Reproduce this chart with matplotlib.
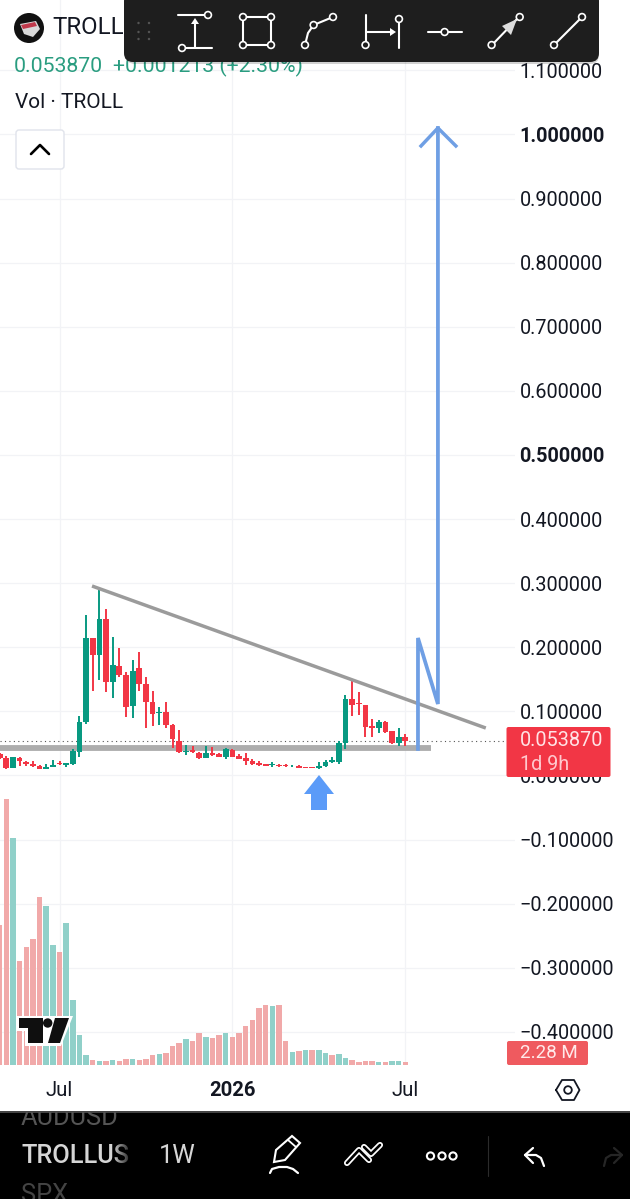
import numpy as np
import matplotlib
matplotlib.use('Agg')
import matplotlib.pyplot as plt
from matplotlib.patches import FancyBboxPatch, Polygon, Circle, Rectangle

plt.rcParams['font.family'] = ['Roboto', 'DejaVu Sans']

# weekly candles, first one is cut off by the left edge
opens = [.0328, .0266, .0110, .0276, .0214, .0183, .0152, .0105, .0136, .0188, .0157, .0178, .0370, .0828,
         .2148, .1878, .2440, .1462, .1712, .1566, .1082, .1675, .1420, .1140, .0968, .0994, .0786, .0542,
         .0365, .0396, .0354, .0276, .0354, .0328, .0282, .0396, .0302, .0266, .0230, .0188, .0178, .0162,
         .0167, .0157, .0141, .0146, .0131, .0126, .0110, .0146, .0214, .0204, .0510, .1186, .1124, .1098,
         .0776, .0734, .0828, .0687, .0500, .0594]
closes = [.0266, .0110, .0282, .0219, .0183, .0152, .0105, .0131, .0162, .0178, .0188, .0380, .0838, .2148,
          .1878, .2440, .1462, .1722, .1566, .1072, .1628, .1420, .1140, .0958, .0994, .0781, .0568, .0365,
          .0386, .0360, .0266, .0344, .0323, .0292, .0406, .0287, .0261, .0224, .0172, .0167, .0152, .0178,
          .0141, .0146, .0152, .0120, .0120, .0120, .0152, .0214, .0240, .0510, .1186, .1098, .1108, .0760,
          .0739, .0828, .0682, .0500, .0594, .05387]
highs = [.0344, .0308, .0282, .0292, .0224, .0224, .0162, .0172, .0235, .0224, .0198, .0406, .0926, .2507,
         .2148, .2918, .2596, .2164, .1992, .1618, .1800, .1925, .1530, .1316, .1062, .1140, .0796, .0703,
         .0469, .0458, .0365, .0458, .0448, .0354, .0422, .0406, .0334, .0344, .0261, .0219, .0183, .0204,
         .0178, .0178, .0162, .0157, .0136, .0131, .0204, .0240, .0282, .0536, .1254, .1488, .1296, .1098,
         .0880, .0864, .0848, .0698, .0734, .0646]
lows = [.0256, .0100, .0110, .0152, .0152, .0136, .0095, .0100, .0126, .0157, .0126, .0167, .0292, .0796,
        .1322, .1488, .1301, .1202, .1540, .0906, .0900, .1322, .0744, .0776, .0786, .0744, .0432, .0354,
        .0318, .0349, .0250, .0266, .0308, .0282, .0256, .0282, .0250, .0167, .0162, .0141, .0141, .0136,
        .0136, .0136, .0131, .0115, .0115, .0115, .0105, .0136, .0198, .0172, .0406, .0932, .0942, .0604,
        .0604, .0661, .0656, .0495, .0464, .0458]

# volume in millions
volumes = [96.6, 183.3, 156.4, 71.8, 81.2, 86.7, 115.9, 109.7, 82.6, 77.8, 98.0, 44.9, 20.7, 6.9, 3.5, 2.6,
           3.0, 3.5, 3.0, 4.1, 4.1, 3.5, 4.1, 6.9, 7.8, 8.3, 13.3, 15.0, 17.7, 16.8, 22.1, 19.3, 18.6, 20.9,
           22.3, 19.5, 21.9, 26.9, 31.0, 39.1, 41.6, 40.5, 41.6, 16.8, 9.0, 9.5, 10.6, 10.6, 10.6, 8.5, 6.7,
           7.4, 5.0, 3.2, 1.9, 3.0, 3.0, 2.3, 2.3, 3.0, 3.0, 2.28]
# volume bars are coloured on their own, they do not always follow the candle
vol_marks = list('rrgrrrrggrg' 'gggrgrgrrg' 'rrrgrrrgrr' 'grrgrrrrrr' 'grrgrgrggr' 'ggrrrrgrggr')

price_ticks = [1.1, 1.0, 0.9, 0.8, 0.7, 0.6, 0.5, 0.4, 0.3, 0.2, 0.1, 0.0, -0.1, -0.2, -0.3, -0.4]
date_ticks = [8, 34, 60]
date_labels = ['Jul', '2026', 'Jul']

last_price = 0.05387
support_level = 0.0435
trend_x = [12.89, 72.1]
trend_y = [0.2955, 0.0739]
target_x = [61.9, 61.9, 64.9, 64.9]
target_y = [0.0412, 0.2144, 0.1114, 1.01]
head_x = [62.36, 64.9, 67.6]
head_y = [0.982, 1.01, 0.982]

UP = '#089981'
DOWN = '#f23645'
INK = '#131722'
GRID = '#f2f3f6'
BLUE = '#6f9fe4'

weeks = np.arange(-1, 61)
opens = np.array(opens)
closes = np.array(closes)
candle_colors = [UP if c >= o else DOWN for o, c in zip(opens, closes)]
vol_colors = ['#f1a9a9' if m == 'r' else '#90d0c9' for m in vol_marks]

fig = plt.figure(figsize=(6.3, 11.99), dpi=100)

# price panel
ax = fig.add_axes([0, 134 / 1199, 515 / 630, 1065 / 1199], zorder=1)
ax.set_xlim(-0.947, 76.49)
ax.set_ylim(-0.4518, 1.2097)
for s in ax.spines.values():
    s.set_visible(False)
ax.yaxis.tick_right()
ax.set_yticks(price_ticks)
ax.set_yticklabels([f'{t:.6f}'.replace('-', '\u2212') for t in price_ticks], fontsize=14.3, color=INK)
for t, lab in zip(price_ticks, ax.get_yticklabels()):
    if t in (1.0, 0.5):
        lab.set_fontweight('bold')
ax.set_xticks(date_ticks)
ax.set_xticklabels(date_labels, fontsize=14.6, color=INK)
ax.get_xticklabels()[1].set_fontweight('bold')
ax.tick_params(axis='y', length=0, pad=3.2)
ax.tick_params(axis='x', length=0, pad=11.5)
ax.grid(color=GRID, lw=0.9)
ax.set_axisbelow(True)

ax.plot([-1, 63.9], [support_level, support_level], color='#adadad', lw=4.2, solid_capstyle='butt', zorder=1.5)
ax.plot([-1, 76.4], [last_price, last_price], color='#555555', lw=0.8, ls=(0, (1, 3)), zorder=1.6)
ax.vlines(weeks, lows, highs, colors=candle_colors, lw=1.4, zorder=2)
ax.bar(weeks, closes - opens, bottom=opens, width=0.86, color=candle_colors, zorder=3)
ax.plot(trend_x, trend_y, color='#9b9b9b', lw=2.5, solid_capstyle='butt', zorder=4)
ax.plot(target_x, target_y, color=BLUE, lw=2.7, solid_joinstyle='miter', zorder=5)
ax.plot(head_x, head_y, color=BLUE, lw=2.5, zorder=5)

# volume panel, same x as price
vax = fig.add_axes([0, 134 / 1199, 515 / 630, 1065 / 1199], zorder=2, sharex=ax)
vax.patch.set_visible(False)
vax.set_ylim(0, 734.85)
vax.bar(weeks, volumes, width=0.82, color=vol_colors)
vax.axis('off')

# everything that belongs to the app around the chart, in screen pixels
ui = fig.add_axes([0, 0, 1, 1], zorder=5)
ui.patch.set_visible(False)
ui.axis('off')


def line(xs, ys, color='white', lw=1.5, z=12):
    ui.plot(xs, ys, color=color, lw=lw, zorder=z, solid_capstyle='round')


def dot(x, y, r=3.4, z=13):
    ui.add_patch(Circle((x, y), r, fc='#1e1e1e', ec='white', lw=1.2, zorder=z))


# header
ui.add_patch(Circle((29, 28), 15, fc='#111111', zorder=6))
ui.add_patch(Polygon([(20, 24), (36, 21), (40, 29), (33, 37), (24, 34)], fc='#d9d9d9', zorder=7))
ui.add_patch(Polygon([(21, 25), (35, 22), (37, 26), (23, 29)], fc='#c0394b', zorder=8))
ui.text(52, 28, 'TROLL', fontsize=17.3, color=INK, va='center', zorder=6)
ui.text(14, 66, '0.053870', fontsize=15.3, color='#2a9d80', va='center', zorder=6)
ui.text(113, 66, '+0.001213 (+2.30%)', fontsize=15.3, color='#2a9d80', va='center', zorder=6)
ui.text(15, 102, 'Vol \u00b7 TROLL', fontsize=15, color=INK, va='center', zorder=6)
ui.add_patch(FancyBboxPatch((17, 131), 46, 37, boxstyle='round,pad=1,rounding_size=3', fc='white', ec='#e0e3eb', lw=1, zorder=6))
line([31, 40, 49], [154, 145, 154], color='black', lw=1.9, z=7)

# drawing toolbar
ui.add_patch(FancyBboxPatch((126, -8), 473, 72, boxstyle='round,pad=0,rounding_size=9', fc='black', ec='none', alpha=0.18, zorder=9))
ui.add_patch(FancyBboxPatch((124, -8), 475, 70, boxstyle='round,pad=0,rounding_size=9', fc='#1e1e1e', ec='none', zorder=10))
for gx in (138.5, 149):
    for gy in (23, 32, 39):
        ui.add_patch(Circle((gx, gy), 1.2, fc='#555555', zorder=11))
# parallel / range
line([178, 205], [15, 15])
line([186, 212], [48, 48])
line([195, 195], [48, 22])
ui.add_patch(Polygon([(195, 18), (191, 24), (199, 24)], fc='white', zorder=12))
dot(208, 15)
dot(182, 48)
# rectangle
line([243, 271, 271, 243, 243], [17, 17, 45, 45, 17])
for p in [(243, 17), (271, 17), (243, 45), (271, 45)]:
    dot(*p)
# path
line([305, 308, 313.6, 333], [45, 33, 25, 17])
dot(305, 45)
dot(313.6, 25)
dot(333, 17)
# date range
line([365.5, 365.5], [15, 42])
line([399, 399], [23, 48])
line([367, 393], [32, 32])
ui.add_patch(Polygon([(396, 32), (390, 28), (390, 36)], fc='white', zorder=12))
dot(365.5, 45)
dot(399, 19)
# horizontal ray
line([428, 462], [32, 32])
dot(444.6, 32)
# arrow
line([492, 518], [45, 18])
ui.add_patch(Polygon([(517, 19), (502, 26), (511, 35)], fc='#dddddd', zorder=12))
dot(491.6, 45)
dot(519.7, 17)
# trend line
line([554, 582], [45, 17])
dot(554, 45)
dot(582, 17)

# blue entry arrow
ui.add_patch(Polygon([(319, 775), (334, 794), (327, 794), (327, 810), (311, 810), (311, 794), (304, 794)],
                     fc='#5b9bf8', zorder=6))

# price tags
ui.add_patch(FancyBboxPatch((506.5, 727), 104, 50, boxstyle='round,pad=0,rounding_size=2', fc=DOWN, ec='none', zorder=6))
ui.text(520, 741, '0.053870', fontsize=14.3, color='#ffe3e5', va='center', zorder=7)
ui.text(520, 764, '1d 9h', fontsize=14.3, color='#ffc9ce', va='center', zorder=7)
ui.add_patch(FancyBboxPatch((507, 1041), 81, 24, boxstyle='round,pad=0,rounding_size=2', fc='#ef5a5f', ec='none', zorder=6))
ui.text(520, 1053.5, '2.28 M', fontsize=13.5, color='#ffe9ea', va='center', zorder=7)

# tradingview mark
ui.add_patch(Polygon([(16, 1016), (73, 1016), (61, 1046), (25, 1046), (25, 1031), (16, 1031)], fc='white', zorder=6))
ui.add_patch(Polygon([(19, 1018), (43, 1018), (43, 1043), (28, 1043), (28, 1028), (19, 1028)], fc='#0f0f0f', zorder=7))
ui.add_patch(Circle((47.7, 1023), 4.7, fc='#0f0f0f', zorder=8))
ui.add_patch(Polygon([(55, 1018), (69, 1018), (60, 1043), (48, 1043)], fc='#0f0f0f', zorder=7))

# settings hexagon
hex_x = [556, 562, 574, 579.5, 574, 562, 556]
hex_y = [1090, 1080, 1080, 1090, 1100, 1100, 1090]
line(hex_x, hex_y, color=INK, lw=1.3, z=6)
ui.add_patch(Circle((568, 1090), 3.8, fc='white', ec=INK, lw=1.3, zorder=6))

# bottom bar
ui.add_patch(Rectangle((0, 1112), 630, 87, fc='black', zorder=6))
ui.add_patch(Rectangle((0, 1111), 630, 1.5, fc='#444444', zorder=6))
for label, y, col in [('AUDUSD', 1118, '#555555'), ('SPX', 1195, '#444444')]:
    t = ui.text(21, y, label, fontsize=18.3, color=col, va='center', zorder=7)
    t.set_clip_path(Rectangle((0, 1112), 630, 87, transform=ui.transData))
    t.set_clip_on(True)
ui.text(21, 1156, 'TROLLUS', fontsize=18.3, color='#d6d6d6', va='center', fontweight='medium', zorder=7)
ui.text(159, 1156, '1W', fontsize=18.3, color='#d6d6d6', va='center', zorder=7)
fade = np.zeros((1, 30, 4))
fade[0, :, 3] = np.linspace(0, 1, 30)
ui.imshow(fade, extent=(112, 134, 1172, 1140), aspect='auto', zorder=8)

# pencil
ui.add_patch(Polygon([(274, 1162), (276, 1150), (292, 1136), (300, 1143), (285, 1160)], fc='none', ec='white', lw=1.5, zorder=9))
line([288, 296], [1140, 1147], lw=1.3)
line([270, 272, 279, 287, 293, 298], [1173, 1169, 1167, 1167, 1169, 1173], lw=1.6)
# layers
for xs, ys in [([347, 359, 369], [1163, 1150, 1160]), ([364, 371, 380], [1147, 1154, 1145])]:
    line(xs, ys, lw=4.4, z=9)
    line(xs, ys, color='black', lw=1.9, z=10)
# more
for cx in (430.5, 442, 453):
    ui.add_patch(Circle((cx, 1156), 3.6, fc='black', ec='white', lw=1.5, zorder=9))
line([488, 488], [1136, 1176], color='#2b2b2b', lw=0.8)
# undo / redo
line([533, 525, 533], [1148, 1155, 1163], lw=1.6)
line([525, 536, 541, 544], [1155, 1155, 1158, 1166], lw=1.6)
line([614, 622, 614], [1148, 1155, 1163], color='#262626', lw=1.6)
line([622, 611, 606, 604], [1155, 1155, 1158, 1166], color='#262626', lw=1.6)

ui.set_xlim(0, 630)
ui.set_ylim(1199, 0)

fig.savefig('out.png', dpi=100)
